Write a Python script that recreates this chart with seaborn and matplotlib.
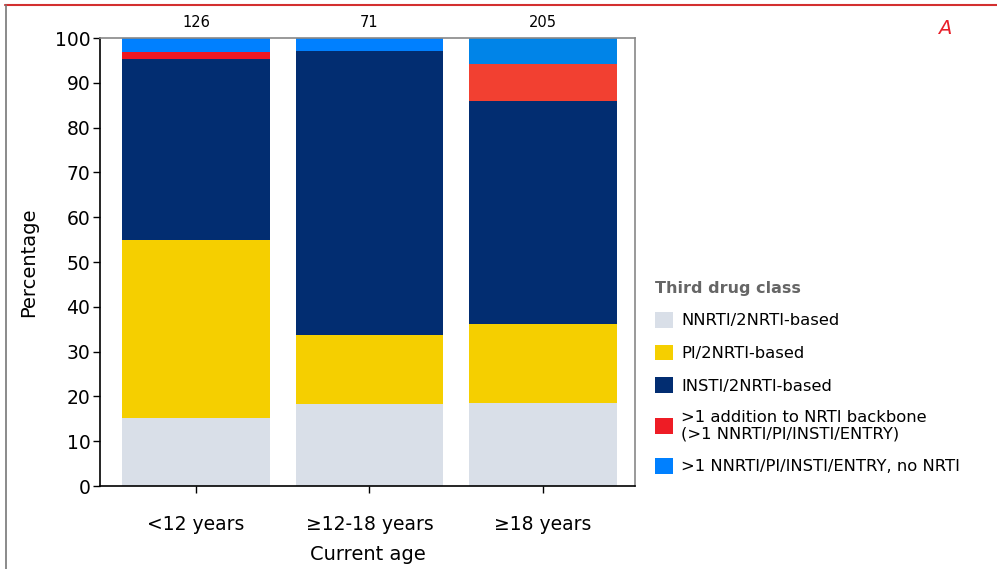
import matplotlib
matplotlib.use("Agg")
import matplotlib.pyplot as plt
from matplotlib.patches import Patch
from matplotlib.lines import Line2D
import seaborn as sns
import pandas as pd
import numpy as np

# Regimen composition by current age (percent of patients)
ages = ["<12 years", "\u226512-18 years", "\u226518 years"]
counts = [126, 71, 205]
nnrti = [15.1, 18.3, 18.5]
pi = [39.7, 15.5, 17.6]
insti = [40.5, 63.4, 49.8]
multi_nrti = [1.6, 0.0, 8.3]
multi_no_nrti = [3.1, 2.8, 5.8]

classes = [
    "NNRTI/2NRTI-based",
    "PI/2NRTI-based",
    "INSTI/2NRTI-based",
    ">1 addition to NRTI backbone\n(>1 NNRTI/PI/INSTI/ENTRY)",
    ">1 NNRTI/PI/INSTI/ENTRY, no NRTI",
]
series = [nnrti, pi, insti, multi_nrti, multi_no_nrti]

# fill colours per class, one per age bar
bar_colors = [
    ["#D9DFE8"] * 3,
    ["#F5CF00"] * 3,
    ["#022D71"] * 3,
    ["#EF1722", "#EF1722", "#F24031"],
    ["#0080FF", "#0080FF", "#0084E8"],
]
legend_colors = ["#D9DFE8", "#F5CF00", "#022D71", "#EE1C25", "#0080FF"]

rows = []
for cls, vals in zip(classes, series):
    for age, v in zip(ages, vals):
        rows.append({"age": age, "cls": cls, "pct": v})
df = pd.DataFrame(rows)
df["cls"] = pd.Categorical(df["cls"], categories=classes, ordered=True)
df["age"] = pd.Categorical(df["age"], categories=ages, ordered=True)
df = df.sort_values(["age", "cls"])
df["top"] = df.groupby("age", observed=True)["pct"].cumsum()

sns.set_style("white")
plt.rcParams["font.family"] = ["DejaVu Sans"]
plt.rcParams["text.color"] = "black"
plt.rcParams["axes.labelcolor"] = "black"
plt.rcParams["xtick.color"] = "black"
plt.rcParams["ytick.color"] = "black"

fig = plt.figure(figsize=(9.97, 5.69), dpi=100)
ax = fig.add_axes([100 / 997, 1 - 486 / 569, 535 / 997, 448 / 569])

# stacked bars: draw cumulative tops from the top layer down
for k in reversed(range(len(classes))):
    sub = df[df["cls"] == classes[k]]
    sns.barplot(data=sub, x="age", y="top", hue="age", order=ages,
                hue_order=ages, palette=bar_colors[k], width=0.85,
                saturation=1, legend=False, linewidth=0, ax=ax)

ax.set_ylim(0, 100)
ax.set_xlim(-0.553, 2.53)
ax.set_yticks(np.arange(0, 101, 10))
ax.tick_params(axis="y", which="major", direction="out", length=5, width=1,
               labelsize=13.5, pad=2, left=True, color="black",
               labelcolor="black")
ax.tick_params(axis="x", which="major", direction="out", length=5, width=1,
               labelsize=13.5, pad=16, bottom=True, color="black",
               labelcolor="black")
ax.set_ylabel("Percentage", fontsize=14, labelpad=12, color="black")
ax.set_xlabel("Current age", fontsize=14, labelpad=8, color="black")

for side in ["left", "bottom"]:
    ax.spines[side].set_color("black")
    ax.spines[side].set_linewidth(1.2)
for side in ["top", "right"]:
    ax.spines[side].set_visible(True)
    ax.spines[side].set_color("#888888")
    ax.spines[side].set_linewidth(1.2)

# patient counts above each bar
for i, n in enumerate(counts):
    ax.annotate(str(n), (i, 100), xytext=(0, 6), textcoords="offset points",
                ha="center", va="bottom", fontsize=10.5, color="black",
                annotation_clip=False)

handles = [Patch(facecolor=c, edgecolor="none") for c in legend_colors]
leg = fig.legend(handles, classes, loc="upper left",
                 bbox_to_anchor=(655 / 997, 1 - 281 / 569),
                 frameon=False, fontsize=11.8, title="Third drug class",
                 title_fontproperties={"weight": "bold", "size": 11.5},
                 handlelength=1.1, handleheight=1.1, handletextpad=0.5,
                 labelspacing=0.98, borderpad=0, borderaxespad=0,
                 alignment="left", labelcolor="black")
leg.get_title().set_color("#666666")

fig.text(945 / 997, 1 - 28 / 569, "A", color="#E8202A", fontsize=14,
         style="italic", ha="center", va="center")

# panel frame
fig.add_artist(Line2D([5 / 997, 1], [1 - 5 / 569, 1 - 5 / 569],
                      color="#D32F2F", linewidth=1.5, transform=fig.transFigure))
fig.add_artist(Line2D([6 / 997, 6 / 997], [0, 1 - 5 / 569],
                      color="#777777", linewidth=1.2, transform=fig.transFigure))

fig.savefig("out.png", dpi=100)
